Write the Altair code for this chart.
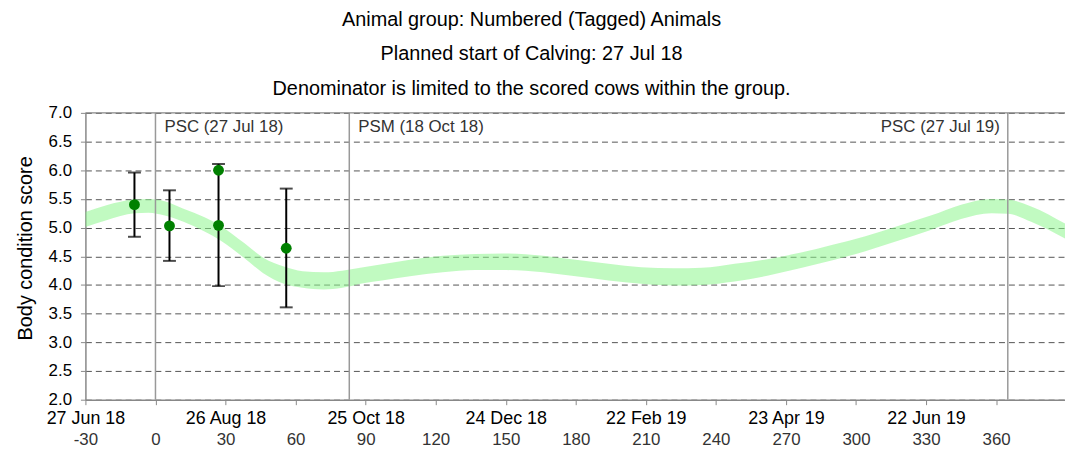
import altair as alt
import pandas as pd

# ---- data ----
band_day = [-30, -21, -9, -3, 4, 12, 21, 28, 38, 46, 55, 63, 72, 80, 89, 97, 109, 123, 137, 149,
            166, 180, 194, 208, 222, 234, 248, 262, 276, 290, 304, 318, 332, 345, 358, 365, 375, 389.5]
band_lo = [5.01, 5.13, 5.25, 5.26, 5.21, 5.10, 4.93, 4.77, 4.47, 4.21, 4.02, 3.95, 3.92, 3.95, 4.03, 4.08,
           4.15, 4.22, 4.26, 4.26, 4.22, 4.15, 4.08, 4.02, 3.99, 4.00, 4.06, 4.16, 4.29, 4.43, 4.59, 4.77,
           4.96, 5.15, 5.25, 5.24, 5.10, 4.81]
band_hi = [5.27, 5.39, 5.49, 5.50, 5.46, 5.33, 5.18, 5.03, 4.73, 4.48, 4.32, 4.24, 4.22, 4.25, 4.31, 4.36,
           4.44, 4.51, 4.54, 4.55, 4.51, 4.44, 4.37, 4.31, 4.29, 4.30, 4.37, 4.45, 4.56, 4.70, 4.85, 5.03,
           5.21, 5.40, 5.50, 5.49, 5.37, 5.07]

pt_day = [-9, 6, 27, 27, 56]
pt_val = [5.40, 5.03, 6.00, 5.04, 4.64]

err_day = [-9, 6, 27, 56]
err_lo = [4.84, 4.42, 3.98, 3.61]
err_hi = [5.96, 5.65, 6.11, 5.68]

ev_day = [0, 83, 365]
ev_label = ["PSC (27 Jul 18)", "PSM (18 Oct 18)", "PSC (27 Jul 19)"]

tick_days = [-30, 0, 30, 60, 90, 120, 150, 180, 210, 240, 270, 300, 330, 360]
date_tick_days = [-30, 30, 90, 150, 210, 270, 330]
date_labels = ["27 Jun 18", "26 Aug 18", "25 Oct 18", "24 Dec 18", "22 Feb 19", "23 Apr 19", "22 Jun 19"]

y_ticks = [2.0, 2.5, 3.0, 3.5, 4.0, 4.5, 5.0, 5.5, 6.0, 6.5, 7.0]

title_lines = ["Animal group: Numbered (Tagged) Animals",
               "Planned start of Calving: 27 Jul 18",
               "Denominator is limited to the scored cows within the group."]

# ---- tables ----
band_df = pd.DataFrame({"day": band_day, "lo": band_lo, "hi": band_hi})
pt_df = pd.DataFrame({"day": pt_day, "val": pt_val})
err_df = pd.DataFrame({"day": err_day, "lo": err_lo, "hi": err_hi})
ev_df = pd.DataFrame({"day": ev_day, "label": ev_label})
top_df = pd.DataFrame({"y": [7.0]})

FONT = "Liberation Sans"

date_expr = ""
for d, l in zip(date_tick_days, date_labels):
    date_expr += f"datum.value == {d} ? '{l}' : "
date_expr += "''"

xscale = alt.Scale(domain=[-30, 389.5], nice=False, zero=False)
yscale = alt.Scale(domain=[2, 7], nice=False, zero=False)

date_axis = alt.Axis(values=tick_days, labelExpr=date_expr, orient="bottom", tickSize=5,
                     tickColor="#888888", domainColor="#888888", domainWidth=1.5, labelFontSize=18,
                     labelColor="black", labelPadding=5, labelOverlap=False, labelFlush=False,
                     grid=False, title=None, labelFont=FONT)
num_axis = alt.Axis(values=tick_days, labelExpr="'' + datum.value", orient="bottom", domain=False,
                    ticks=False, tickSize=0, labelFontSize=17, labelColor="#333333", offset=28,
                    labelPadding=4, labelOverlap=False, labelFlush=False, grid=False, title=None,
                    labelFont=FONT)
y_axis = alt.Axis(values=y_ticks, format=".1f", grid=True, gridDash=[6, 4], gridColor="#555555",
                  gridWidth=1, domainColor="#888888", domainWidth=1.5, tickColor="#888888",
                  tickSize=5, labelFontSize=17, labelColor="black", labelPadding=9,
                  title="Body condition score", titleFontSize=20, titleFontWeight="normal",
                  titleColor="black", titlePadding=13, titleY=136, labelFont=FONT, titleFont=FONT)

band = alt.Chart(band_df).mark_area(interpolate="monotone", color="#8ef58e", opacity=0.55,
                                    clip=True).encode(
    x=alt.X("day:Q", scale=xscale, axis=date_axis),
    y=alt.Y("lo:Q", scale=yscale, axis=y_axis),
    y2="hi:Q",
)

ev_rules = alt.Chart(ev_df).mark_rule(color="#999999", strokeWidth=1.5).encode(
    x=alt.X("day:Q", scale=xscale, axis=None),
)

top_rule = alt.Chart(top_df).mark_rule(color="#888888", strokeWidth=1.2).encode(
    y=alt.Y("y:Q", scale=yscale, axis=y_axis),
)

err_rules = alt.Chart(err_df).mark_rule(color="black", strokeWidth=2).encode(
    x=alt.X("day:Q", scale=xscale, axis=num_axis),
    y=alt.Y("lo:Q", scale=yscale, axis=y_axis),
    y2="hi:Q",
)
cap_lo = alt.Chart(err_df).mark_tick(orient="horizontal", size=13, thickness=2, color="black").encode(
    x=alt.X("day:Q", scale=xscale, axis=None),
    y=alt.Y("lo:Q", scale=yscale, axis=y_axis),
)
cap_hi = alt.Chart(err_df).mark_tick(orient="horizontal", size=13, thickness=2, color="black").encode(
    x=alt.X("day:Q", scale=xscale, axis=None),
    y=alt.Y("hi:Q", scale=yscale, axis=y_axis),
)

points = alt.Chart(pt_df).mark_circle(size=120, color="#008000", opacity=1).encode(
    x=alt.X("day:Q", scale=xscale, axis=None),
    y=alt.Y("val:Q", scale=yscale, axis=y_axis),
)

lbl_left = alt.Chart(ev_df).transform_filter("datum.day < 300").mark_text(
    align="left", baseline="middle", dx=9, fontSize=17, color="#333333", font=FONT).encode(
    x=alt.X("day:Q", scale=xscale, axis=None),
    y=alt.value(14),
    text="label:N",
)
lbl_right = alt.Chart(ev_df).transform_filter("datum.day >= 300").mark_text(
    align="right", baseline="middle", dx=-8, fontSize=17, color="#333333", font=FONT).encode(
    x=alt.X("day:Q", scale=xscale, axis=None),
    y=alt.value(14),
    text="label:N",
)

chart = alt.layer(
    band, ev_rules, top_rule, err_rules, cap_lo, cap_hi, points, lbl_left, lbl_right
).resolve_axis(x="independent").properties(
    width=987,
    height=289,
    autosize=alt.AutoSizeParams(type="none"),
    padding={"left": 78, "top": 104, "right": 0, "bottom": 48},
    title=alt.Title(text=title_lines, fontSize=20, fontWeight="normal", color="black",
                    lineHeight=35, anchor="middle", frame="group", dx=-44, offset=5,
                    baseline="top", font=FONT),
).configure_view(stroke=None)

chart.save("out.html", embed_options={"renderer": "svg", "actions": False})
